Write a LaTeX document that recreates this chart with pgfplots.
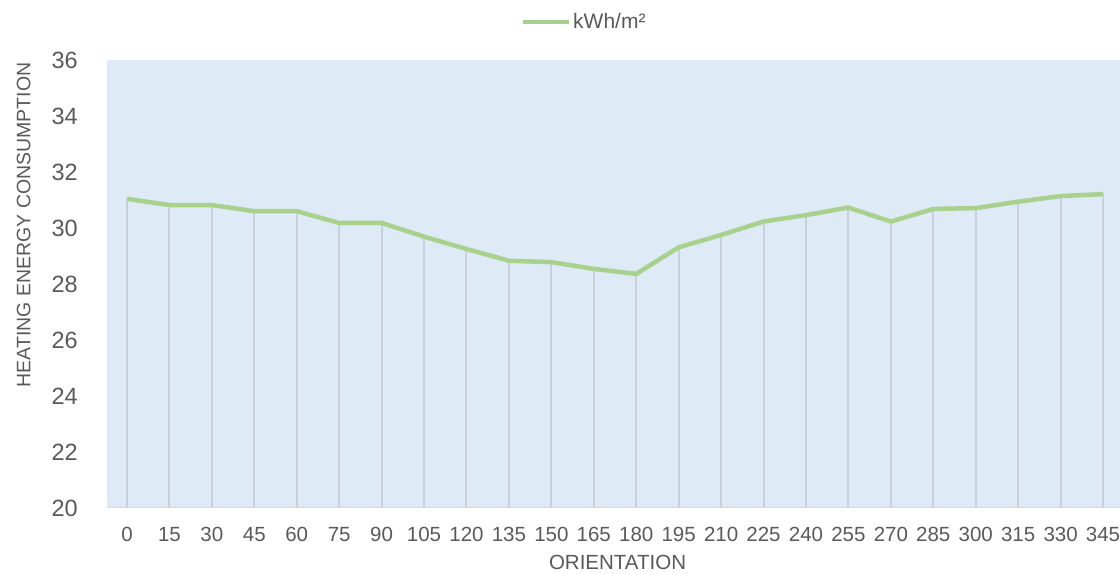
\documentclass[border=0pt]{standalone}
\usepackage{fontspec}
\setmainfont{Liberation Sans}
\usepackage{pgfplots}
\pgfplotsset{compat=1.18}

\definecolor{bgblue}{HTML}{DEEAF6}
\definecolor{linegreen}{HTML}{A9D18E}
\definecolor{dropgray}{HTML}{C8D1DA}
\definecolor{txtgray}{HTML}{595959}
\definecolor{axgray}{HTML}{D9D9D9}

\pgfplotstableread{
ori kwh
0   31.04
15  30.82
30  30.82
45  30.60
60  30.60
75  30.18
90  30.18
105 29.69
120 29.25
135 28.83
150 28.78
165 28.54
180 28.36
195 29.31
210 29.75
225 30.23
240 30.46
255 30.73
270 30.23
285 30.68
300 30.71
315 30.94
330 31.14
345 31.21
}\heating

\begin{document}
\begin{tikzpicture}
\begin{axis}[
    name=ax,
    scale only axis,
    width=1013pt, height=448pt,
    xmin=-7.07, xmax=351,
    ymin=20, ymax=36,
    xtick={0,15,...,345},
    ytick={20,22,...,36},
    major tick length=0pt,
    axis line style={draw=none},
    axis background/.style={fill=bgblue},
    ticklabel style={font=\fontsize{20.5}{24}\selectfont, text=txtgray},
    yticklabel style={font=\fontsize{23.5}{26}\selectfont, inner sep=0pt, xshift=-29pt},
    xticklabel style={inner sep=0pt, yshift=-19pt},
    /pgf/number format/assume math mode=true,
    xlabel={ORIENTATION},
    ylabel={HEATING ENERGY CONSUMPTION},
    xlabel style={font=\fontsize{20.5}{24}\selectfont, text=txtgray, inner sep=1pt,
        at={(axis description cs:0.504,-0.121)}, anchor=center},
    ylabel style={font=\fontsize{19.5}{23}\selectfont, text=txtgray,
        at={(axis description cs:-0.0823,0.632)}, anchor=center, rotate=0},
    legend style={at={(axis description cs:0.471,1.085)}, anchor=center,
        draw=none, fill=none, font=\fontsize{21}{24}\selectfont, text=txtgray},
    legend image code/.code={\draw[linegreen, line width=4.5pt] (0pt,0pt) -- (46pt,0pt);},
    legend cell align=left,
]
\addplot[ycomb, draw=dropgray, line width=2pt, forget plot] table[x=ori, y=kwh] {\heating};
\addplot[linegreen, line width=4.5pt, line join=round, mark=none] table[x=ori, y=kwh] {\heating};
\addlegendentry{kWh/m²}
\draw[axgray, line width=2pt] (axis cs:-7.07,20) -- (axis cs:351,20);
\end{axis}
\pgfresetboundingbox
\path[use as bounding box] ([xshift=-107pt,yshift=-66pt]ax.south west) rectangle ([yshift=60pt]ax.north east);
\end{tikzpicture}
\end{document}
